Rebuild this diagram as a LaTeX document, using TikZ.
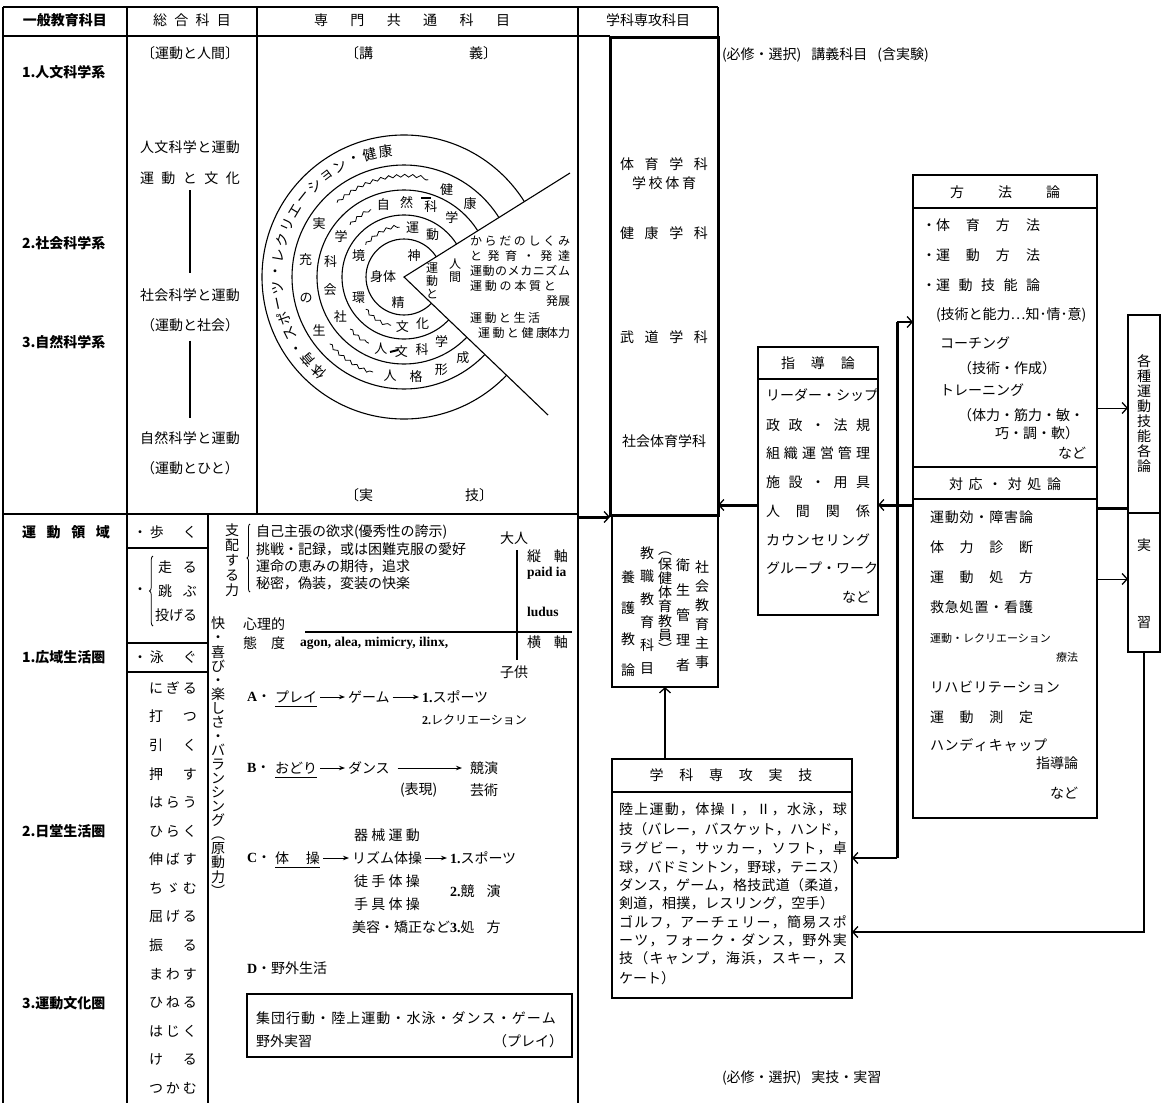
\documentclass[tikz,border=0pt]{standalone}
\usepackage{fontspec}
\setmainfont{Liberation Serif}
\newfontfamily\jp{Noto Sans CJK JP}
\usetikzlibrary{arrows.meta,calc,decorations.pathreplacing,decorations.pathmorphing}
\makeatletter
\newdimen\vcsep
\newcommand\vchars[2]{\vbox{\offinterlineskip\vcsep=#1\relax\vch@r#2\relax}}
\def\vch@r#1{\ifx\relax#1\else\hbox to 1em{\hss\vrule height .82\vcsep depth .18\vcsep width 0pt\relax #1\hss}\expandafter\vch@r\fi}
\newcommand\spread[2]{\makebox[#1][s]{\spr@a#2\relax}}
\def\spr@a#1{#1\spr@b}
\def\spr@b#1{\ifx\relax#1\else\hfil#1\expandafter\spr@b\fi}
\newcommand\spreadE[2]{\begingroup\edef\x{\noexpand\spread{#1}{#2}}\x\endgroup}
\makeatother
\begin{document}
\begin{tikzpicture}[x=1pt,y=-1pt,
  every node/.style={inner sep=0pt,outer sep=0pt,font=\jp\fontsize{14}{16}\selectfont},
  sm/.style={font=\jp\fontsize{11}{13}\selectfont},
  smm/.style={font=\jp\fontsize{12}{13}\selectfont},
  wd/.style={font=\jp\fontsize{12}{13}\selectfont},
  rc/.style={font=\jp\fontsize{13}{14}\selectfont},
  bf/.style={font=\jp\bfseries\fontsize{14}{16}\selectfont},
  lat/.style={font=\rmfamily\bfseries\fontsize{13.5}{15}\selectfont},
  tline/.style={line width=1.1pt},
  tbox/.style={draw,line width=1.1pt},
  bbox/.style={draw,line width=3pt},
  thk/.style={line width=3pt},
  wavy/.style={line width=.8pt,decorate,decoration={snake,amplitude=1.4pt,segment length=8pt}},
  tipA/.style={-{Straight Barb[length=5pt,width=11pt,line width=1.3pt]}},
  txa/.style={line width=0.9pt,shorten <=3pt,shorten >=3pt,-{Stealth[length=6pt,width=4.5pt]}},
  W/.style={anchor=west},
  E/.style={anchor=east},
  N/.style={anchor=north}]
\useasboundingbox (0,0) rectangle (1165,1103);

% ---------------- table frame
\draw[tline] (3,7) -- (718,7);
\draw[tline] (3,7) -- (3,1103);
\draw[tline] (127,7) -- (127,1103);
\draw[tline] (257,7) -- (257,514);
\draw[tline] (208,514) -- (208,1103);
\draw[tline] (578,7) -- (578,1103);
\draw[tline] (718,7) -- (718,37);
\draw[tline] (3,36) -- (610,36);
\draw[tline] (3,514) -- (578,514);

% headers
\node[bf] (h1) at (65,20) {一般教育科目};
\node (h2) at (192,20) {\spread{78pt}{総合科目}};
\node (h3) at (412,20) {\spread{196pt}{専門共通科目}};
\node (h4) at (648,20) {学科専攻科目};

% column 1 (upper)
\node[W,bf] (g1) at (22,72) {1.人文科学系};
\node[W,bf] (g2) at (22,243) {2.社会科学系};
\node[W,bf] (g3) at (22,342) {3.自然科学系};

% column 2 (upper)
\node (k0) at (190,53) {〔運動と人間〕};
\node (k1) at (190,147) {\spread{100pt}{人文科学と運動}};
\node (k2) at (190,178) {\spread{100pt}{運動と文化}};
\node (k3) at (190,295) {\spread{100pt}{社会科学と運動}};
\node (k4) at (190,325) {（運動と社会）};
\node (k5) at (190,438) {\spread{100pt}{自然科学と運動}};
\node (k6) at (190,468) {（運動とひと）};
\draw[tline] ([yshift=-6pt]k2.south) -- ([yshift=15pt]k3.north);
\draw[tline] ([yshift=-9pt]k4.south) -- ([yshift=13pt]k5.north);

% column 3 (upper)
\node (kg) at (421,53) {\makebox[152pt][s]{〔講\hfil 義〕}};
\node (jg) at (419,495) {\makebox[148pt][s]{〔実\hfil 技〕}};

% concentric diagram
\coordinate (O) at (404,277);
\foreach \rad in {38,62,87,112,142} \draw[tline] (O) circle[radius=\rad];
\fill[white] (O) -- (570,173) -- (576,173) -- (576,433) -- (567,433) -- cycle;
\draw[tline] (570,173) -- (O) -- (548,415);
\foreach \chr [count=\i from 0] in {体,育,・,ス,ポ,ー,ツ,・,レ,ク,リ,エ,ー,シ,ョ,ン,・,健,康} {
  \pgfmathsetmacro\ang{228-\i*7.2}
  \node[rotate=\ang-90] at ($(O)+(-\ang:127)$) {\chr};
}
\foreach \ang/\rad/\chr in {212/100/生,192/100/の,170/100/充,148/100/実,
    262/100/人,277/100/格,292/100/形,306/100/成,64/97/健,48/99/康,
    212/75/社,190/75/会,168/75/科,147/75/学,
    106/75/自,88/75/然,69/75/科,51/76/学,
    252/75/人,268/75/文,284/75/科,300/75/学,
    205/50/環,155/50/境,80/50/運,56/51/動,268/50/文,292/50/化}
  \node[rc] at ($(O)+(-\ang:\rad)$) {\chr};
\node[rc] (ct) at (383,277) {身体};
\node[rc] (cs) at (414,256) {神};
\node[rc] (cp) at (398,303) {精};
\draw[wavy] ($(O)+(-222:100)$) arc[start angle=-222, end angle=-252, radius=100];
\draw[wavy] ($(O)+(-132:100)$) arc[start angle=-132, end angle=-76, radius=100];
\draw[wavy] ($(O)+(-224:75)$) arc[start angle=-224, end angle=-242, radius=75];
\draw[wavy] ($(O)+(-136:75)$) arc[start angle=-136, end angle=-116, radius=75];
\draw[wavy] ($(O)+(-220:50)$) arc[start angle=-220, end angle=-255, radius=50];
\draw[wavy] ($(O)+(-140:50)$) arc[start angle=-140, end angle=-95, radius=50];
\draw[line width=2pt] (421,198) -- (431,198);
\draw[line width=2pt] (390,352) -- (398,350);
% wedge text
\node[W,wd] (x1) at (470,241) {\spread{100pt}{からだのしくみ}};
\node[W,wd] (x2) at (470,256) {\spread{100pt}{と発育・発達}};
\node[W,wd] (x3) at (470,271) {\spread{100pt}{運動のメカニズム}};
\node[W,wd] (x4) at (470,286) {\spread{86pt}{運動の本質と}};
\node[E,wd] (x5) at (570,301) {発展};
\node[W,wd] (x6) at (470,318) {\spread{70pt}{運動と生活}};
\node[W,wd] (x7) at (478,333) {\spread{70pt}{運動と健康}};
\node[E,wd] (x8) at (570,333) {体力};
\node[N,wd] (x9) at (455,258) {\vchars{13pt}{人間}};
\node[N,wd] (x10) at (432,262) {\vchars{13pt}{運動と}};

% bold box
\node[bbox,minimum width=108pt,minimum height=478pt] (bold) at (664,276) {};
\node (b1) at (664,164) {\spread{88pt}{体育学科}};
\node (b2) at (664,183) {\spread{64pt}{学校体育}};
\node (b3) at (664,233) {\spread{88pt}{健康学科}};
\node (b4) at (664,337) {\spread{88pt}{武道学科}};
\node (b5) at (664,441) {社会体育学科};

% teacher box
\node[tbox,minimum width=106pt,minimum height=172pt] (tch) at (665,601) {};
\node[N] (t1) at (702,557) {\vchars{19pt}{社会教育主事}};
\node[N] (t2) at (683,550) {\vchars{25pt}{衛生管理者}};
\node[N] (t3) at (665,543) {\vchars{14.3pt}{︵保健体育教員︶}};
\node[N] (t4) at (647,540) {\vchars{23pt}{教職教育科目}};
\node[N] (t5) at (628,557) {\vchars{31pt}{養護教論}};

% practical subjects box
\node[tbox,minimum width=240pt,minimum height=239pt] (prac) at (732,878.5) {};
\draw[tline] (612,792) -- (852,792);
\node (ph) at (731,775) {\spread{163pt}{学科専攻実技}};
\node[W] (p1) at (619,809) {\spread{228pt}{陸上運動，体操Ⅰ，Ⅱ，水泳，球}};
\node[W] (p2) at (619,829) {\spread{228pt}{技（バレー，バスケット，ハンド，}};
\node[W] (p3) at (619,848) {\spread{228pt}{ラグビー，サッカー，ソフト，卓}};
\node[W] (p4) at (619,867) {\spread{228pt}{球，バドミントン，野球，テニス）}};
\node[W] (p5) at (619,885) {\spread{228pt}{ダンス，ゲーム，格技武道（柔道，}};
\node[W] (p6) at (619,903) {\spread{215pt}{剣道，相撲，レスリング，空手）}};
\node[W] (p7) at (619,922) {\spread{228pt}{ゴルフ，アーチェリー，簡易スポ}};
\node[W] (p8) at (619,940) {\spread{228pt}{ーツ，フォーク・ダンス，野外実}};
\node[W] (p9) at (619,958) {\spread{228pt}{技（キャンプ，海浜，スキー，ス}};
\node[W] (p10) at (619,978) {ケート）};

% guidance box
\node[tbox,minimum width=120pt,minimum height=268pt] (shd) at (818,481) {};
\draw[tline] (758,379) -- (878,379);
\node (s0) at (818,363) {\spread{74pt}{指導論}};
\node[W] (s1) at (766,395) {\spread{104pt}{リーダー・シップ}};
\node[W] (s2) at (766,425) {\spread{104pt}{政政・法規}};
\node[W] (s3) at (766,453) {\spread{104pt}{組織運営管理}};
\node[W] (s4) at (766,482) {\spread{104pt}{施設・用具}};
\node[W] (s5) at (766,511) {\spread{104pt}{人間関係}};
\node[W] (s6) at (766,540) {\spread{104pt}{カウンセリング}};
\node[W] (s7) at (766,568) {\spread{104pt}{グループ・ワーク}};
\node[E] (s8) at (870,597) {など};

% methods box
\node[tbox,minimum width=184pt,minimum height=292pt] (hoh) at (1005,321) {};
\draw[tline] (913,208) -- (1097,208);
\node (m0) at (1005,192) {\spread{110pt}{方法論}};
\node[W] (m1) at (922,225) {・\spread{104pt}{体育方法}};
\node[W] (m2) at (922,255) {・\spread{104pt}{運動方法}};
\node[W] (m3) at (922,285) {・\spread{104pt}{運動技能論}};
\node[W] (m4) at (936,315) {(技術と能力…知･情･意)};
\node[W] (m5) at (940,343) {コーチング};
\node[W] (m6) at (958,368) {（技術・作成）};
\node[W] (m7) at (940,390) {トレーニング};
\node[W] (m8) at (958,415) {（体力・筋力・敏・};
\node[W] (m9) at (995,433) {巧・調・軟）};
\node[E] (m10) at (1086,453) {など};

% coping box
\node[tbox,minimum width=184pt,minimum height=351pt] (tai) at (1005,642.5) {};
\draw[tline] (913,499) -- (1097,499);
\node (r0) at (1005,484) {\spread{112pt}{対応・対処論}};
\node[W] (r1) at (930,517) {\spread{103pt}{運動効・障害論}};
\node[W] (r2) at (930,547) {\spread{103pt}{体力診断}};
\node[W] (r3) at (930,577) {\spread{103pt}{運動処方}};
\node[W] (r4) at (930,607) {\spread{103pt}{救急処置・看護}};
\node[W,sm] (r5) at (930,638) {運動・レクリエーション};
\node[E,sm] (r6) at (1078,657) {療法};
\node[W] (r7) at (930,687) {\spread{130pt}{リハビリテーション}};
\node[W] (r8) at (930,717) {\spread{103pt}{運動測定}};
\node[W] (r9) at (930,745) {\spread{117pt}{ハンディキャップ}};
\node[E] (r10) at (1078,763) {指導論};
\node[E] (r11) at (1078,793) {など};

% right narrow box
\node[tbox,minimum width=32pt,minimum height=337pt] (kak) at (1144,483.5) {};
\draw[tline] (1128,513) -- (1160,513);
\node (kk) at (1144,414) {\vchars{15pt}{各種運動技能各論}};
\node (kj) at (1144,545) {実};
\node (ks) at (1144,623) {習};

% connectors
\coordinate (vt) at (897,322);
\coordinate (vb) at (897,858);
\draw[thk] (vt) -- (vb);
\draw[line width=2pt,tipA] (vt) -- (vt -| hoh.west);
\draw[line width=2pt,tipA] (vb) -- (vb -| prac.east);
\coordinate (y505) at (0,505);
\draw[thk,tipA] (tai.west |- y505) -- (shd.east |- y505);
\draw[thk,tipA] (shd.west |- y505) -- (bold.east |- y505);
\coordinate (y508) at (0,508);
\draw[thk] (tai.east |- y508) -- (kak.west |- y508);
\coordinate (y408) at (0,408);
\coordinate (y579) at (0,579);
\draw[line width=1pt,tipA] (hoh.east |- y408) -- (kak.west |- y408);
\draw[line width=1pt,tipA] (tai.east |- y579) -- (kak.west |- y579);
\coordinate (y932) at (0,932);
\draw[line width=2pt,tipA] (kak.south) -- (kak.south |- y932) -- (prac.east |- y932);
\draw[line width=1.8pt,tipA] (prac.north -| tch.south) -- (tch.south);
\coordinate (c3) at (578,517);
\draw[thk,tipA] (c3) -- (c3 -| bold.west);

% notes
\node[W] (n1) at (722,55) {(必修・選択)\hspace{10pt}講義科目\hspace{10pt}(含実験)};
\node[W] (n2) at (722,1078) {(必修・選択)\hspace{10pt}実技・実習};

% lower column 1
\node[W,bf] (d0) at (22,532) {\spread{88pt}{運動領域}};
\node[W,bf] (d1) at (22,657) {1.広域生活圏};
\node[W,bf] (d2) at (22,831) {2.日堂生活圏};
\node[W,bf] (d3) at (22,1003) {3.運動文化圏};

% lower column 2
\node[W] (w0) at (133,532) {・\hspace{3pt}\spread{47pt}{歩く}};
\draw[tline] (127,548) -- (208,548);
\node[W] (w1) at (158,567) {\spread{39pt}{走る}};
\node[W] (w2) at (158,591) {\spread{39pt}{跳ぶ}};
\node[W] (w3) at (155,615) {\spread{42pt}{投げる}};
\node (wd) at (140,591) {・};
\draw[line width=.8pt,decorate,decoration={brace,amplitude=3.5pt}] (153,626) -- (153,556);
\draw[tline] (127,643) -- (208,643);
\node[W] (w4) at (133,657) {・\hspace{3pt}\spread{47pt}{泳ぐ}};
\draw[line width=1.8pt] (127,672) -- (208,672);
\foreach \w [count=\i from 0] in {にぎる,打つ,引く,押す,はらう,ひらく,伸ばす,ちゞむ,屈げる,振る,まわす,ひねる,はじく,ける,つかむ}
  \node[W] (v\i) at (149,688+28.6*\i) {\spreadE{48pt}{\w}};

% lower column 3
\node[N] (sh) at (232,523) {\vchars{15pt}{支配する力}};
\draw[line width=.8pt,decorate,decoration={brace,amplitude=3pt}] (250,592) -- (250,524);
\node[W] (q1) at (256,532) {自己主張の欲求(優秀性の誇示)};
\node[W] (q2) at (256,549) {挑戦・記録，或は困難克服の愛好};
\node[W] (q3) at (256,566) {運命の恵みの期待，追求};
\node[W] (q4) at (256,583) {秘密，偽装，変装の快楽};
\node[W] (ot) at (500,538) {大人};
\node[W] (ax1) at (527,556) {\spread{41pt}{縦軸}};
\node[W,lat] (pa) at (527,573) {paid ia};
\node[W,lat] (lu) at (527,612) {ludus};
\node[W] (ax2) at (527,642) {\spread{41pt}{横軸}};
\node[W] (ko) at (500,672) {子供};
\draw[tline] (517,550) -- (517,660);
\draw[tline] (305,632) -- (572,632);
\node[W] (sr1) at (243,624) {心理的};
\node[W] (sr2) at (243,643) {\spread{42pt}{態度}};
\node[W,lat] (ag) at (300,643) {agon, alea, mimicry, ilinx,};
\node[N] (kai) at (218,617) {\vchars{14pt}{快・喜び・楽しさ・バランシング︵原動力︶}};

\node[W] (A0) at (247,697) {{\rmfamily\bfseries A}・};
\node[W] (Ap) at (275,697) {プレイ};
\node[W] (Ag) at (348,697) {ゲーム};
\node[W] (As) at (422,697) {{\rmfamily\bfseries 1.}スポーツ};
\node[W,smm] (Ar) at (422,720) {{\rmfamily\bfseries 2.}レクリエーション};
\draw[txa] (Ap) -- (Ag);
\draw[txa] (Ag) -- (As);
\draw[line width=.8pt] ([yshift=-3pt]Ap.south west) -- ([yshift=-3pt]Ap.south east);

\node[W] (B0) at (247,768) {{\rmfamily\bfseries B}・};
\node[W] (Bo) at (275,768) {おどり};
\node[W] (Bd) at (348,768) {ダンス};
\node[W] (Bk) at (470,768) {競演};
\node[W] (Bh) at (400,790) {(表現)};
\node[W] (Bg) at (470,790) {芸術};
\draw[txa] (Bo) -- (Bd);
\draw[txa,shorten <=8pt,shorten >=8pt] (Bd) -- (Bk);
\draw[line width=.8pt] ([yshift=-3pt]Bo.south west) -- ([yshift=-3pt]Bo.south east);

\node[W] (C0) at (247,858) {{\rmfamily\bfseries C}・};
\node[W] (Ct) at (275,858) {\spread{45pt}{体操}};
\node[W] (Ck) at (354,835) {\spread{66pt}{器械運動}};
\node[W] (Cr) at (352,858) {リズム体操};
\node[W] (Co) at (354,881) {\spread{66pt}{徒手体操}};
\node[W] (Cg) at (354,904) {\spread{66pt}{手具体操}};
\node[W] (Cb) at (352,927) {美容・矯正など};
\node[W] (Cs) at (450,858) {{\rmfamily\bfseries 1.}スポーツ};
\node[W] (Ce) at (450,891) {{\rmfamily\bfseries 2.}\spread{40pt}{競演}};
\node[W] (Cp) at (450,927) {{\rmfamily\bfseries 3.}\spread{40pt}{処方}};
\draw[txa] (Ct) -- (Cr);
\draw[txa] (Cr) -- (Cs);
\draw[line width=.8pt] ([yshift=-3pt]Ct.south west) -- ([yshift=-3pt]Ct.south east);

\node[W] (D0) at (247,968) {{\rmfamily\bfseries D}・野外生活};
\node[tbox,minimum width=325pt,minimum height=63pt] (Dbox) at (409.5,1025.5) {};
\node[W] (D1) at (256,1018) {\spread{300pt}{集団行動・陸上運動・水泳・ダンス・ゲーム}};
\node[W] (D2) at (256,1041) {野外実習};
\node[E] (D3) at (563,1041) {（プレイ）};
\end{tikzpicture}
\end{document}
